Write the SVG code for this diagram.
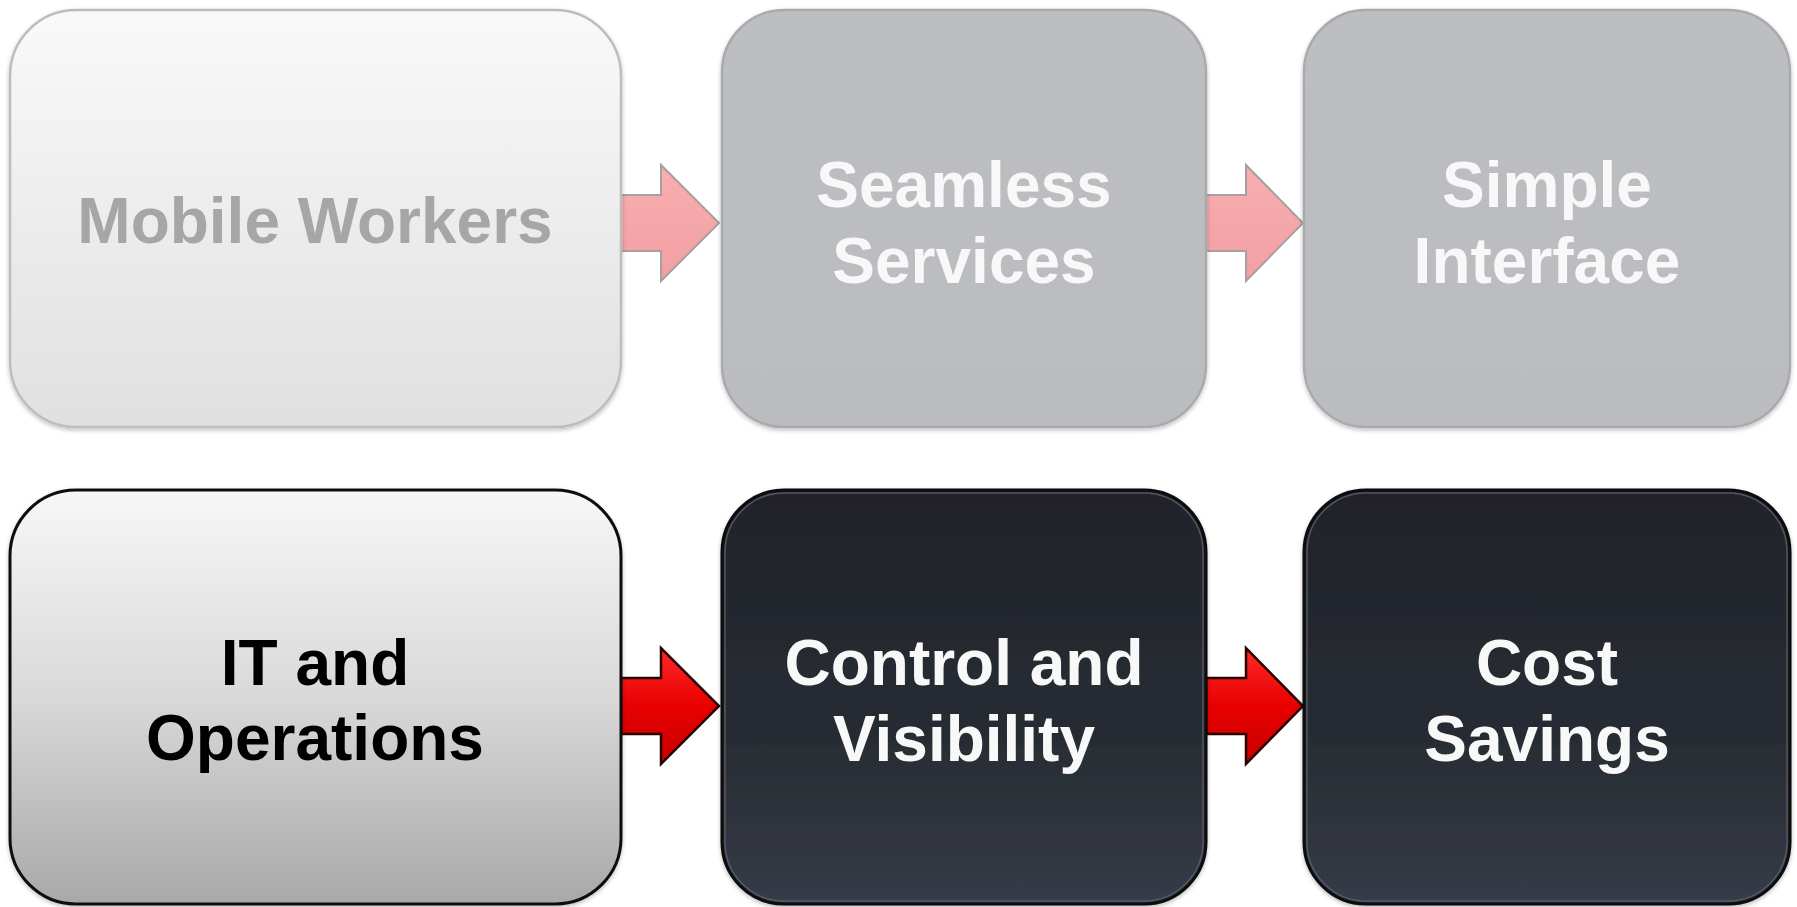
<svg xmlns="http://www.w3.org/2000/svg" width="1797" height="907" viewBox="0 0 1797 907">
<defs>
<linearGradient id="gLight" x1="0" y1="0" x2="0" y2="1"><stop offset="0" stop-color="#f9f9f9"/><stop offset="1" stop-color="#e0e0e0"/></linearGradient>
<linearGradient id="gGray" x1="0" y1="0" x2="0" y2="1"><stop offset="0" stop-color="#bdbec1"/><stop offset="1" stop-color="#bbbcbf"/></linearGradient>
<linearGradient id="gSilver" x1="0" y1="0" x2="0" y2="1"><stop offset="0" stop-color="#f7f7f7"/><stop offset="0.5" stop-color="#d9d9d9"/><stop offset="1" stop-color="#a8a8a8"/></linearGradient>
<linearGradient id="gDark" x1="0" y1="0" x2="0" y2="1"><stop offset="0" stop-color="#202328"/><stop offset="0.6" stop-color="#282c33"/><stop offset="1" stop-color="#363b47"/></linearGradient>
<linearGradient id="gRed" x1="0" y1="0" x2="0" y2="1"><stop offset="0" stop-color="#ff2a2a"/><stop offset="0.5" stop-color="#e80000"/><stop offset="1" stop-color="#c80000"/></linearGradient>
<linearGradient id="gPink" x1="0" y1="0" x2="0" y2="1"><stop offset="0" stop-color="#f8aeb0"/><stop offset="1" stop-color="#f29fa2"/></linearGradient>
<filter id="sh" x="-5%" y="-5%" width="110%" height="110%"><feDropShadow dx="0" dy="2" stdDeviation="2" flood-color="#000" flood-opacity="0.25"/></filter>
</defs>
<style>
text{font-family:"Liberation Sans",Arial,sans-serif;font-weight:bold;font-size:64px;text-anchor:middle}
.t-faint{fill:#a6a6a6}
.t-white{fill:#f8f8f8}
.t-black{fill:#000}
.light{fill:url(#gLight);stroke:#bdbdbd;stroke-width:2.5}
.gray{fill:url(#gGray);stroke:#a9aaad;stroke-width:2.5}
.silver{fill:url(#gSilver);stroke:#111;stroke-width:3}
.dark{fill:url(#gDark);stroke:#0a0a0a;stroke-width:3}
.bevel{fill:none;stroke:#5b6272;stroke-width:1.5;opacity:0.8}
.pink{fill:url(#gPink);stroke:#a8a0a0;stroke-width:2}
.red{fill:url(#gRed);stroke:#2a0000;stroke-width:2.5}
</style>
<g id="connectors">
<path class="pink" d="M621,195 H661 V165 L719,223 L661,281 V251 H621 Z"/>
<path class="pink" d="M1206,195 H1246 V165 L1303,223 L1246,281 V251 H1206 Z"/>
<path class="red" d="M621,678 H661 V648 L719,706 L661,764 V734 H621 Z"/>
<path class="red" d="M1206,678 H1246 V648 L1303,706 L1246,764 V734 H1206 Z"/>
</g>
<g id="mobile-workers" filter="url(#sh)">
<rect class="light" x="10" y="10" width="611" height="417" rx="66"/>
<text class="t-faint" x="315" y="243">Mobile Workers</text>
</g>
<g id="seamless-services" filter="url(#sh)">
<rect class="gray" x="722" y="10" width="484" height="417" rx="62"/>
<text class="t-white" x="964" y="207">Seamless</text>
<text class="t-white" x="964" y="283">Services</text>
</g>
<g id="simple-interface" filter="url(#sh)">
<rect class="gray" x="1304" y="10" width="486" height="417" rx="62"/>
<text class="t-white" x="1547" y="207">Simple</text>
<text class="t-white" x="1547" y="283">Interface</text>
</g>
<g id="it-operations" filter="url(#sh)">
<rect class="silver" x="10" y="490" width="611" height="414" rx="66"/>
<text class="t-black" x="315" y="685">IT and</text>
<text class="t-black" x="315" y="760">Operations</text>
</g>
<g id="control-visibility" filter="url(#sh)">
<rect class="dark" x="722" y="490" width="484" height="414" rx="62"/>
<rect class="bevel" x="725" y="493" width="478" height="408" rx="59"/>
<text class="t-white" x="964" y="685">Control and</text>
<text class="t-white" x="964" y="761">Visibility</text>
</g>
<g id="cost-savings" filter="url(#sh)">
<rect class="dark" x="1304" y="490" width="486" height="414" rx="62"/>
<rect class="bevel" x="1307" y="493" width="480" height="408" rx="59"/>
<text class="t-white" x="1547" y="685">Cost</text>
<text class="t-white" x="1547" y="761">Savings</text>
</g>
</svg>
